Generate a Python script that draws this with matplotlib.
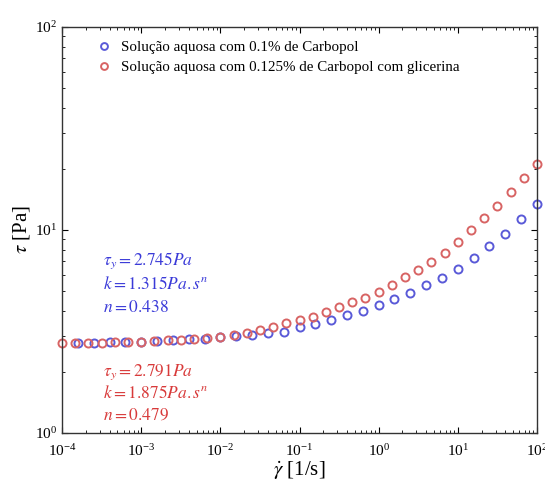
import numpy as np
import matplotlib
matplotlib.use("Agg")
import matplotlib.pyplot as plt

# ---- data ----
blue_x = [10**v for v in [-3.8, -3.6, -3.4, -3.2, -3.0, -2.8, -2.6, -2.4, -2.2, -2.0,
                          -1.8, -1.6, -1.4, -1.2, -1.0, -0.8, -0.6, -0.4, -0.2, 0.0,
                          0.2, 0.4, 0.6, 0.8, 1.0, 1.2, 1.4, 1.6, 1.8, 2.0]]
blue_tau = [2.77, 2.79, 2.81, 2.81, 2.82, 2.84, 2.86, 2.89, 2.92, 2.97,
            3.00, 3.04, 3.11, 3.16, 3.31, 3.44, 3.60, 3.81, 3.97, 4.27,
            4.55, 4.90, 5.33, 5.80, 6.46, 7.24, 8.30, 9.56, 11.27, 13.36]

red_logx = [-4.0, -3.833, -3.667, -3.5, -3.333, -3.167, -3.0, -2.833, -2.667, -2.5,
            -2.333, -2.167, -2.0, -1.833, -1.667, -1.5, -1.333, -1.167, -1.0, -0.833,
            -0.667, -0.5, -0.333, -0.167, 0.0, 0.167, 0.333, 0.5, 0.667, 0.833,
            1.0, 1.167, 1.333, 1.5, 1.667, 1.833, 2.0]
red_x = [10**v for v in red_logx]
red_tau = [2.77, 2.77, 2.79, 2.79, 2.81, 2.81, 2.82, 2.84, 2.86, 2.87,
           2.90, 2.94, 2.98, 3.04, 3.12, 3.22, 3.32, 3.47, 3.62, 3.74,
           3.94, 4.18, 4.40, 4.62, 4.95, 5.36, 5.87, 6.35, 6.96, 7.74,
           8.73, 10.0, 11.4, 13.2, 15.4, 18.0, 21.1]

labels = ["Solução aquosa com 0.1% de Carbopol",
          "Solução aquosa com 0.125% de Carbopol com glicerina"]
blue_params = [r"$\tau_y = 2.745Pa$", r"$k = 1.315Pa.s^n$", r"$n = 0.438$"]
red_params = [r"$\tau_y = 2.791Pa$", r"$k = 1.875Pa.s^n$", r"$n = 0.479$"]

BLUE = "#5a5ad8"
RED = "#d86464"

plt.rcParams["font.family"] = ["Liberation Serif", "DejaVu Serif"]
plt.rcParams["mathtext.fontset"] = "stix"

fig = plt.figure(figsize=(5.45, 4.91), dpi=100)
ax = fig.add_axes([0.1138, 0.1181, 0.8715, 0.8269])

ax.plot(blue_x, blue_tau, 'o', mfc='none', mec=BLUE, ms=5.8, mew=1.4,
        label=labels[0], clip_on=False)
ax.plot(red_x, red_tau, 'o', mfc='none', mec=RED, ms=5.8, mew=1.4,
        label=labels[1], clip_on=False)

ax.set_xscale('log')
ax.set_yscale('log')
ax.set_xlim(1e-4, 1e2)
ax.set_ylim(1, 100)

ax.tick_params(which='both', direction='in', top=True, right=True, labelsize=11)
ax.tick_params(axis='x', which='major', pad=7)
ax.tick_params(which='major', length=4)
ax.tick_params(which='minor', length=2)
for s in ax.spines.values():
    s.set_linewidth(1.0)
    s.set_color('#333333')

ax.set_xlabel(r"$\dot{\gamma}$ [1/s]", fontsize=15, labelpad=0)
ax.set_ylabel(r"$\tau$ [Pa]", fontsize=15, labelpad=2)

leg = ax.legend(loc='upper left', frameon=False, fontsize=10.8,
                handletextpad=0.35, borderaxespad=0.5, labelspacing=0.45,
                markerscale=0.85, handlelength=1.6,
                bbox_to_anchor=(0.035, 1.0))

for i, t in enumerate(blue_params):
    ax.text(0.087, 0.425 - i * 0.058, t, transform=ax.transAxes,
            color="#3a3ad8", fontsize=12.5, va='center')
for i, t in enumerate(red_params):
    ax.text(0.087, 0.15 - i * 0.053, t, transform=ax.transAxes,
            color="#d83a3a", fontsize=12.5, va='center')

fig.savefig("out.png", dpi=100)
